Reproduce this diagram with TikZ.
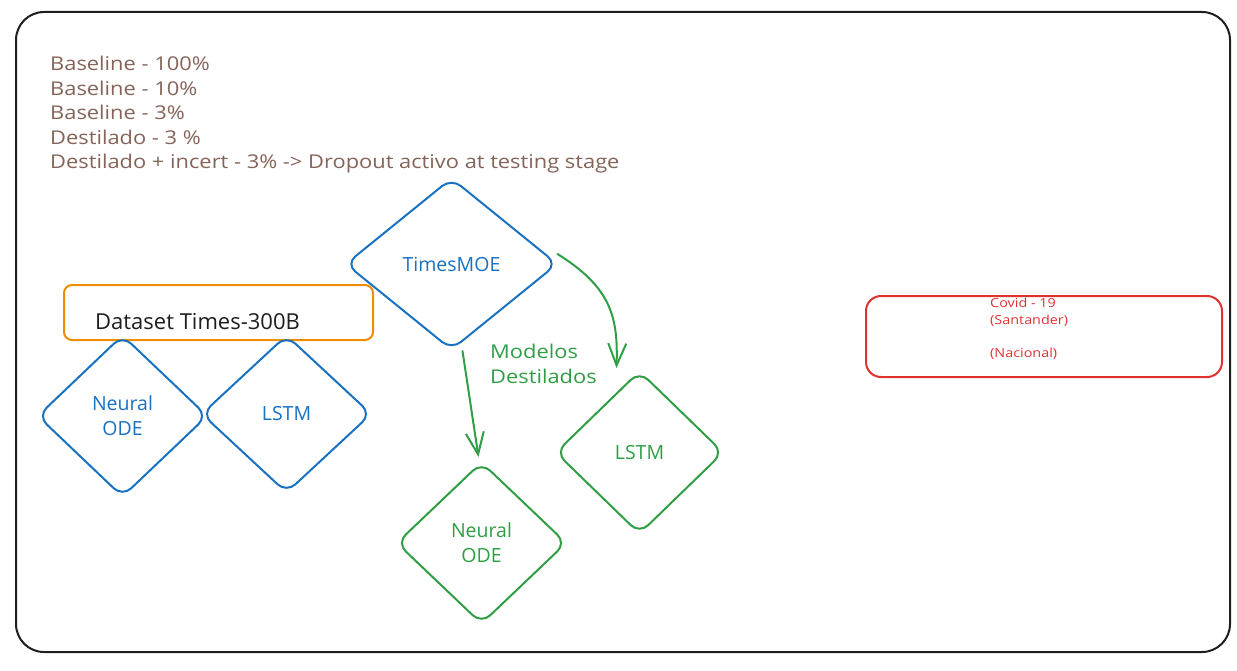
\documentclass[tikz,border=0pt]{standalone}
\usepackage{fontspec}
\setmainfont{Open Sans}
\newfontfamily\widefont{Open Sans}[FakeStretch=1.15]
\usetikzlibrary{shapes.geometric,arrows.meta}
\definecolor{cblue}{HTML}{1971C2}
\definecolor{cgreen}{HTML}{2F9E44}
\definecolor{corange}{HTML}{F08C00}
\definecolor{cred}{HTML}{E03131}
\definecolor{cbrown}{HTML}{846358}
\definecolor{cink}{HTML}{1E1E1E}
\begin{document}
\begin{tikzpicture}[x=1pt,y=-1pt,
  txt/.style={font=\widefont\fontsize{19}{24.5}\selectfont, inner sep=0pt, align=left},
  dia/.style={diamond, draw, line width=2pt, rounded corners=12pt, align=center,
    inner sep=0pt, font=\fontsize{19.5}{25}\selectfont},
  bdia/.style={dia, draw=cblue, text=cblue},
  gdia/.style={dia, draw=cgreen, text=cgreen},
  garrow/.style={draw=cgreen, line width=2pt, line cap=round,
    -{Straight Barb[length=22pt,width=18pt,line width=2pt]}},
]
\useasboundingbox (0,0) rectangle (1237,671);
% outer frame
\node[draw=cink, line width=2pt, rounded corners=28pt, minimum width=1214pt,
  minimum height=640pt, inner sep=0pt] (frame) at (623,332) {};

% legend text
\node[txt, text=cbrown, anchor=north west] (legend) at (50,56)
  {Baseline - 100\%\\Baseline - 10\%\\Baseline - 3\%\\Destilado - 3 \%\\Destilado + incert - 3\% -> Dropout activo at testing stage};

% teacher
\node[bdia, minimum width=212pt, minimum height=172pt] (moe) at (451.5,264) {TimesMOE};

% dataset box
\node[draw=corange, line width=2pt, rounded corners=8pt, minimum width=309pt,
  minimum height=55pt, inner sep=0pt] (dataset) at (218.5,312.5) {};
\node[font=\fontsize{22}{26}\selectfont, text=cink, anchor=west, inner sep=0pt] (dstext) at (95,322) {Dataset Times-300B};

% baseline models
\node[bdia, minimum width=170pt, minimum height=162pt] (bode) at (122.5,416) {Neural\\ODE};
\node[bdia, minimum width=170pt, minimum height=158pt] (blstm) at (286.5,414) {LSTM};

% distilled models
\node[gdia, minimum width=170pt, minimum height=162pt] (gode) at (481.5,543) {Neural\\ODE};
\node[gdia, minimum width=168pt, minimum height=163pt] (glstm) at (639.5,452.5) {LSTM};

\node[txt, text=cgreen, anchor=north west] (modelos) at (490,344) {Modelos\\Destilados};

% arrows
\draw[garrow] ([shift={(11,0)}]moe.south) -- ([shift={(-3,-4)}]gode.north);
\draw[garrow] ([shift={(-1,-10)}]moe.east) .. controls (612,288) and (618,318) .. ([shift={(-23,-2)}]glstm.north);

% covid box
\node[draw=cred, line width=2pt, rounded corners=15pt, minimum width=356pt,
  minimum height=81pt, inner sep=0pt] (covid) at (1044,336.5) {};
\node[font=\widefont\fontsize{12.5}{16.6}\selectfont, text=cred, anchor=north west, inner sep=0pt, align=left] (covidtext) at (990,298)
  {Covid - 19\\(Santander)\\[16.6pt](Nacional)};
\end{tikzpicture}
\end{document}
